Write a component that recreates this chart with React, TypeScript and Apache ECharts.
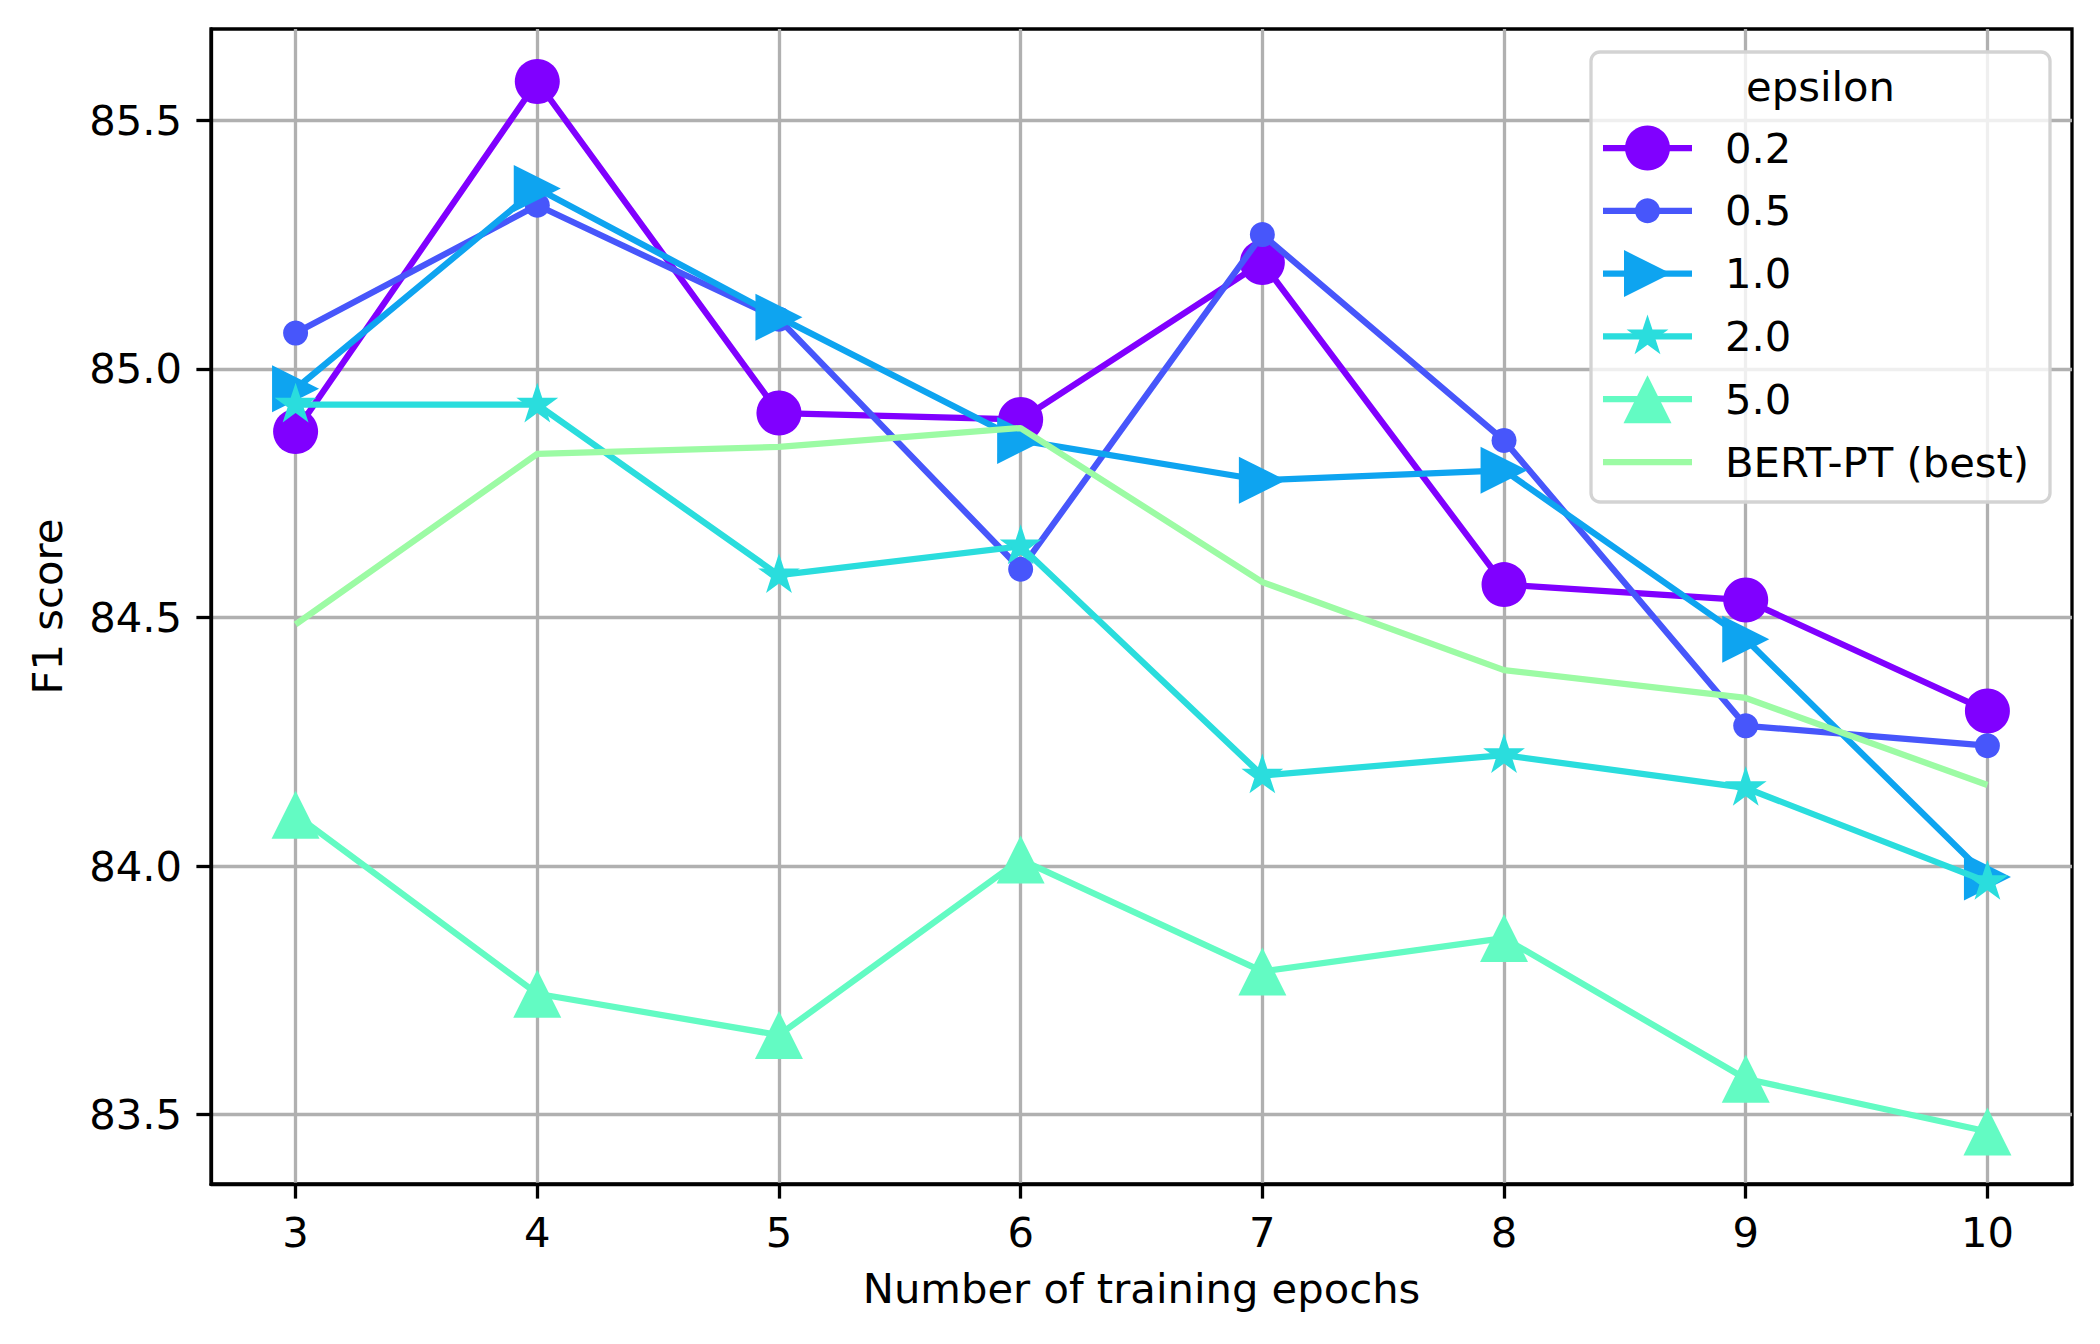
import React, { useEffect, useRef } from "react";
import * as echarts from "echarts";

// ---------------- data ----------------
const epochs = [3, 4, 5, 6, 7, 8, 9, 10];
const seriesNames = ["0.2", "0.5", "1.0", "2.0", "5.0", "BERT-PT (best)"];
const eps02 = [84.874, 85.578, 84.911, 84.898, 85.214, 84.566, 84.535, 84.312];
const eps05 = [85.072, 85.329, 85.1, 84.597, 85.27, 84.856, 84.282, 84.242];
const eps10 = [84.96, 85.363, 85.104, 84.856, 84.776, 84.796, 84.456, 83.978];
const eps20 = [84.928, 84.928, 84.585, 84.643, 84.182, 84.223, 84.157, 83.968];
const eps50 = [84.103, 83.743, 83.66, 84.013, 83.788, 83.855, 83.572, 83.466];
const bertPT = [84.486, 84.829, 84.843, 84.881, 84.571, 84.394, 84.338, 84.163];
const xTickValues = [3, 4, 5, 6, 7, 8, 9, 10];
const yTickValues = [83.5, 84.0, 84.5, 85.0, 85.5];
const legendTitle = "epsilon";
const xAxisTitle = "Number of training epochs";
const yAxisTitle = "F1 score";

// ---------------- styles ----------------
const FONT = "DejaVu Sans";
const FS = 41.7;
const COLORS = ["#8000ff", "#4756fb", "#0ea4f0", "#2adddd", "#63fbc3", "#9cfba4"];
const LW = 6.25;
const SPINE = 3.3;

const STAR_UNIT: [number, number][] = (() => {
  const pts: [number, number][] = [];
  for (let k = 0; k < 10; k++) {
    const th = (k * 36 * Math.PI) / 180;
    const r = k % 2 === 0 ? 1 : 0.381966;
    pts.push([r * Math.sin(th), -r * Math.cos(th)]);
  }
  return pts;
})();
const STAR_PATH =
  "path://" +
  STAR_UNIT.map((p, i) => (i === 0 ? "M" : "L") + p[0].toFixed(4) + "," + p[1].toFixed(4)).join("") +
  "Z";
const RIGHT_TRI_PATH = "path://M-1,-1L1,0L-1,1Z";
const STAR_R = 22;

type Marker = { kind: string; symbol: string; size: number | number[]; offset?: number[] };
const markers: Marker[] = [
  { kind: "circle", symbol: "circle", size: 45 },
  { kind: "circle", symbol: "circle", size: 25 },
  { kind: "rtri", symbol: RIGHT_TRI_PATH, size: 47 },
  { kind: "star", symbol: STAR_PATH, size: [2 * 0.9511 * STAR_R, 1.809 * STAR_R], offset: [0, -0.0955 * STAR_R] },
  { kind: "utri", symbol: "triangle", size: 48 },
  { kind: "none", symbol: "none", size: 0 },
];

const allSeries = [eps02, eps05, eps10, eps20, eps50, bertPT];

function legendMarker(m: Marker, cx: number, cy: number, color: string, z: number) {
  const style = { fill: color };
  if (m.kind === "circle") {
    return { type: "circle", z, shape: { cx, cy, r: (m.size as number) / 2 }, style };
  }
  if (m.kind === "rtri") {
    const h = (m.size as number) / 2;
    return {
      type: "polygon",
      z,
      shape: { points: [[cx - h, cy - h], [cx + h, cy], [cx - h, cy + h]] },
      style,
    };
  }
  if (m.kind === "utri") {
    const h = (m.size as number) / 2;
    return {
      type: "polygon",
      z,
      shape: { points: [[cx, cy - h], [cx + h, cy + h], [cx - h, cy + h]] },
      style,
    };
  }
  if (m.kind === "star") {
    return {
      type: "polygon",
      z,
      shape: { points: STAR_UNIT.map((p) => [cx + p[0] * STAR_R, cy + p[1] * STAR_R]) },
      style,
    };
  }
  return null;
}

export default function App() {
  const ref = useRef<HTMLDivElement>(null);

  useEffect(() => {
    if (!ref.current) return;
    const chart = echarts.init(ref.current, undefined, { renderer: "svg" });

    const flat = allSeries.flat();
    const yMinD = Math.min(...flat);
    const yMaxD = Math.max(...flat);
    const yPad = (yMaxD - yMinD) * 0.05;
    const xPad = (epochs[epochs.length - 1] - epochs[0]) * 0.05;

    const series = allSeries.map((vals, i) => ({
      type: "line",
      name: seriesNames[i],
      data: epochs.map((e, j) => [e, vals[j]]),
      symbol: markers[i].symbol,
      symbolSize: markers[i].size,
      symbolOffset: markers[i].offset || [0, 0],
      showSymbol: markers[i].symbol !== "none",
      lineStyle: { color: COLORS[i], width: LW },
      itemStyle: { color: COLORS[i], opacity: 1 },
      silent: true,
      z: 2 + i * 0.01,
      zlevel: 0,
    }));

    // legend (drawn as graphic)
    const lx = 1591, ly = 52, lw = 459, lh = 450;
    const rowY0 = 148, rowStep = 62.8;
    const handleX1 = 1603, handleX2 = 1692, textX = 1725;
    const graphics: any[] = [
      {
        type: "rect",
        z: 100,
        shape: { x: lx, y: ly, width: lw, height: lh, r: 9 },
        style: { fill: "rgba(255,255,255,0.8)", stroke: "#d3d3d3", lineWidth: 3.3 },
      },
      {
        type: "text",
        z: 101,
        x: lx + lw / 2,
        y: 86,
        style: {
          text: legendTitle,
          fontSize: FS,
          fontFamily: FONT,
          fill: "#000",
          align: "center",
          verticalAlign: "middle",
        },
      },
    ];
    seriesNames.forEach((name, i) => {
      const y = rowY0 + i * rowStep;
      graphics.push({
        type: "line",
        z: 101,
        shape: { x1: handleX1, y1: y, x2: handleX2, y2: y },
        style: { stroke: COLORS[i], lineWidth: LW },
      });
      const mk = legendMarker(markers[i], (handleX1 + handleX2) / 2, y, COLORS[i], 102);
      if (mk) graphics.push(mk);
      graphics.push({
        type: "text",
        z: 101,
        x: textX,
        y: y,
        style: {
          text: name,
          fontSize: FS,
          fontFamily: FONT,
          fill: "#000",
          align: "left",
          verticalAlign: "middle",
        },
      });
    });

    chart.setOption({
      animation: false,
      backgroundColor: "#ffffff",
      textStyle: { fontFamily: FONT },
      grid: {
        left: 211,
        top: 29,
        width: 1861,
        height: 1155,
        show: true,
        borderColor: "#000",
        borderWidth: SPINE,
        backgroundColor: "transparent",
        containLabel: false,
      },
      xAxis: {
        type: "value",
        min: epochs[0] - xPad,
        max: epochs[epochs.length - 1] + xPad,
        minInterval: 1,
        maxInterval: 1,
        name: xAxisTitle,
        nameLocation: "middle",
        nameGap: 83,
        nameTextStyle: { fontSize: FS, fontFamily: FONT, color: "#000" },
        axisLine: { show: true, onZero: false, lineStyle: { color: "#000", width: SPINE } },
        axisTick: {
          show: true,
          length: 14.6,
          inside: false,
          customValues: xTickValues,
          lineStyle: { color: "#000", width: SPINE },
        },
        axisLabel: {
          show: true,
          margin: 27,
          fontSize: FS,
          fontFamily: FONT,
          color: "#000",
          customValues: xTickValues,
          formatter: (v: number) => String(v),
        },
        splitLine: { show: true, lineStyle: { color: "#b0b0b0", width: SPINE } },
      },
      yAxis: {
        type: "value",
        min: yMinD - yPad,
        max: yMaxD + yPad,
        minInterval: 0.5,
        maxInterval: 0.5,
        name: yAxisTitle,
        nameLocation: "middle",
        nameGap: 143,
        nameTextStyle: { fontSize: FS, fontFamily: FONT, color: "#000" },
        axisLine: { show: true, onZero: false, lineStyle: { color: "#000", width: SPINE } },
        axisTick: {
          show: true,
          length: 14.6,
          inside: false,
          customValues: yTickValues,
          lineStyle: { color: "#000", width: SPINE },
        },
        axisLabel: {
          show: true,
          margin: 29,
          fontSize: FS,
          fontFamily: FONT,
          color: "#000",
          customValues: yTickValues,
          formatter: (v: number) => v.toFixed(1),
        },
        splitLine: { show: true, lineStyle: { color: "#b0b0b0", width: SPINE } },
      },
      series,
      graphic: graphics,
    });

    return () => chart.dispose();
  }, []);

  return (
    <div
      ref={ref}
      style={{ position: "absolute", left: 0, top: 0, width: 2100, height: 1344, background: "#fff" }}
    />
  );
}
